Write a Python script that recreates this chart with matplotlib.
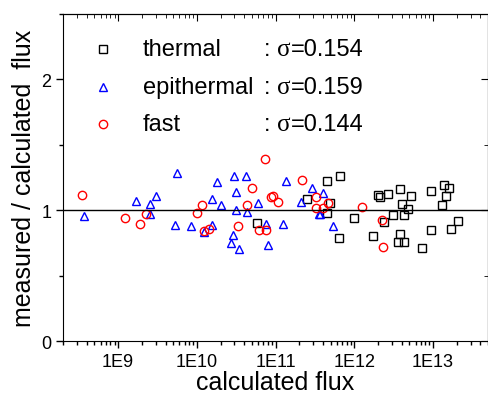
import matplotlib
matplotlib.use("Agg")
import matplotlib.pyplot as plt
from matplotlib.ticker import FixedLocator, LogLocator, MultipleLocator, NullFormatter

plt.rcParams['font.family'] = ['Liberation Sans', 'DejaVu Sans']

# data (x = calculated flux, y = measured / calculated)
thermal_x = [5.8e10, 2.49e11, 4.46e11, 6.65e11, 4.97e11, 4.46e11, 6.33e11, 1.0e12,
             2.01e12, 2.15e12, 2.67e12, 3.82e12, 5.31e12, 4.08e12, 4.83e12, 3.10e12,
             4.22e12, 2.41e12, 1.71e12, 3.80e12, 3.58e12, 4.32e12, 7.15e12, 9.38e12,
             9.5e12, 1.39e13, 1.60e13, 1.47e13, 1.29e13, 1.70e13, 2.09e13]
thermal_y = [0.905, 1.086, 1.224, 1.265, 1.053, 0.977, 0.789, 0.939,
             1.118, 1.099, 1.122, 1.163, 1.107, 1.051, 1.013, 0.962,
             0.966, 0.912, 0.802, 0.820, 0.754, 0.758, 0.708, 1.147,
             0.850, 1.193, 1.170, 1.105, 1.042, 0.853, 0.920]

epi_x = [3.64e8, 1.69e9, 2.56e9, 2.56e9, 3.05e9, 5.58e9, 1.78e10, 2.94e10,
         4.17e10, 3.10e10, 1.58e10, 2.01e10, 3.12e10, 4.33e10, 5.27e9, 8.47e9,
         1.58e10, 1.24e10, 2.92e10, 2.69e10, 3.47e10, 1.35e11, 2.88e11, 3.99e11,
         2.12e11, 5.97e10, 3.53e11, 3.71e11, 7.47e10, 1.25e11, 5.42e11, 7.92e10]
epi_y = [0.954, 1.069, 1.051, 0.969, 1.108, 1.285, 1.214, 1.260,
         1.260, 1.140, 1.089, 1.038, 1.005, 0.987, 0.885, 0.880,
         0.885, 0.830, 0.814, 0.750, 0.705, 1.221, 1.168, 1.134,
         1.063, 1.056, 0.969, 0.969, 0.895, 0.891, 0.876, 0.733]

fast_x = [3.5e8, 1.24e9, 1.88e9, 2.24e9, 1.18e10, 1.0e10, 1.42e10, 1.22e10,
          3.30e10, 4.30e10, 4.97e10, 7.41e10, 2.15e11, 3.27e11, 8.65e10, 9.24e10,
          1.06e11, 4.59e11, 3.27e11, 3.97e11, 6.15e10, 7.47e10, 1.27e12, 2.22e12,
          2.30e12]
fast_y = [1.115, 0.941, 0.898, 0.972, 1.040, 0.975, 0.857, 0.842,
          0.878, 1.036, 1.166, 1.395, 1.231, 1.099, 1.099, 1.112,
          1.063, 1.053, 1.015, 1.015, 0.850, 0.850, 1.025, 0.924,
          0.721]

names = ["thermal", "epithermal", "fast"]
sigmas = ["=0.154", "=0.159", "=0.144"]
tick_vals = [1e9, 1e10, 1e11, 1e12, 1e13]
tick_labels = ["1E9", "1E10", "1E11", "1E12", "1E13"]

fig = plt.figure(figsize=(4.89, 4.02), dpi=100)
ax = fig.add_axes([0.129, 0.149, 0.869, 0.814])

ax.plot(thermal_x, thermal_y, 's', mfc='none', mec='black', ms=5.5, mew=1, ls='none')
ax.plot(epi_x, epi_y, '^', mfc='none', mec='blue', ms=6, mew=1, ls='none')
ax.plot(fast_x, fast_y, 'o', mfc='none', mec='red', ms=6, mew=1, ls='none')
ax.axhline(1, color='black', lw=1)

ax.set_xscale('log')
ax.set_xlim(2e8, 5e13)
ax.set_ylim(0, 2.5)
ax.xaxis.set_major_locator(FixedLocator(tick_vals))
ax.set_xticklabels(tick_labels)
ax.xaxis.set_minor_locator(LogLocator(base=10, subs=range(2, 10), numticks=20))
ax.xaxis.set_minor_formatter(NullFormatter())
ax.yaxis.set_major_locator(FixedLocator([0, 1, 2]))
ax.yaxis.set_minor_locator(MultipleLocator(0.5))
ax.tick_params(which='major', direction='out', length=5, width=1, labelsize=13)
ax.tick_params(which='minor', direction='out', length=3, width=1)

# top and right ticks point inward
top = ax.secondary_xaxis('top')
top.set_xscale('log')
top.xaxis.set_major_locator(FixedLocator(tick_vals))
top.xaxis.set_minor_locator(LogLocator(base=10, subs=range(2, 10), numticks=20))
top.tick_params(which='major', direction='in', length=5, labeltop=False)
top.tick_params(which='minor', direction='in', length=3)
right = ax.secondary_yaxis('right')
right.yaxis.set_major_locator(FixedLocator([0, 1, 2]))
right.yaxis.set_minor_locator(MultipleLocator(0.5))
right.tick_params(which='major', direction='in', length=5, labelright=False)
right.tick_params(which='minor', direction='in', length=3)

ax.set_xlabel("calculated flux", fontsize=18, labelpad=0)
ax.set_ylabel("measured / calculated  flux", fontsize=18, labelpad=4)

# legend drawn by hand
rows = [0.893, 0.777, 0.664]
markers = [('s', 'black', 5.5), ('^', 'blue', 6), ('o', 'red', 6)]
for yy, name, sig, (m, c, s) in zip(rows, names, sigmas, markers):
    ax.plot([0.094], [yy], m, mfc='none', mec=c, ms=s, mew=1, transform=ax.transAxes)
    ax.text(0.188, yy, name, fontsize=17, va='center', transform=ax.transAxes)
    ax.text(0.472, yy, ":", fontsize=17, va='center', transform=ax.transAxes)
    ax.text(0.503, yy, "σ", fontsize=18, va='center', family='Liberation Serif',
            transform=ax.transAxes)
    ax.text(0.537, yy, sig, fontsize=17, va='center', transform=ax.transAxes)

fig.savefig("out.png", dpi=100)
